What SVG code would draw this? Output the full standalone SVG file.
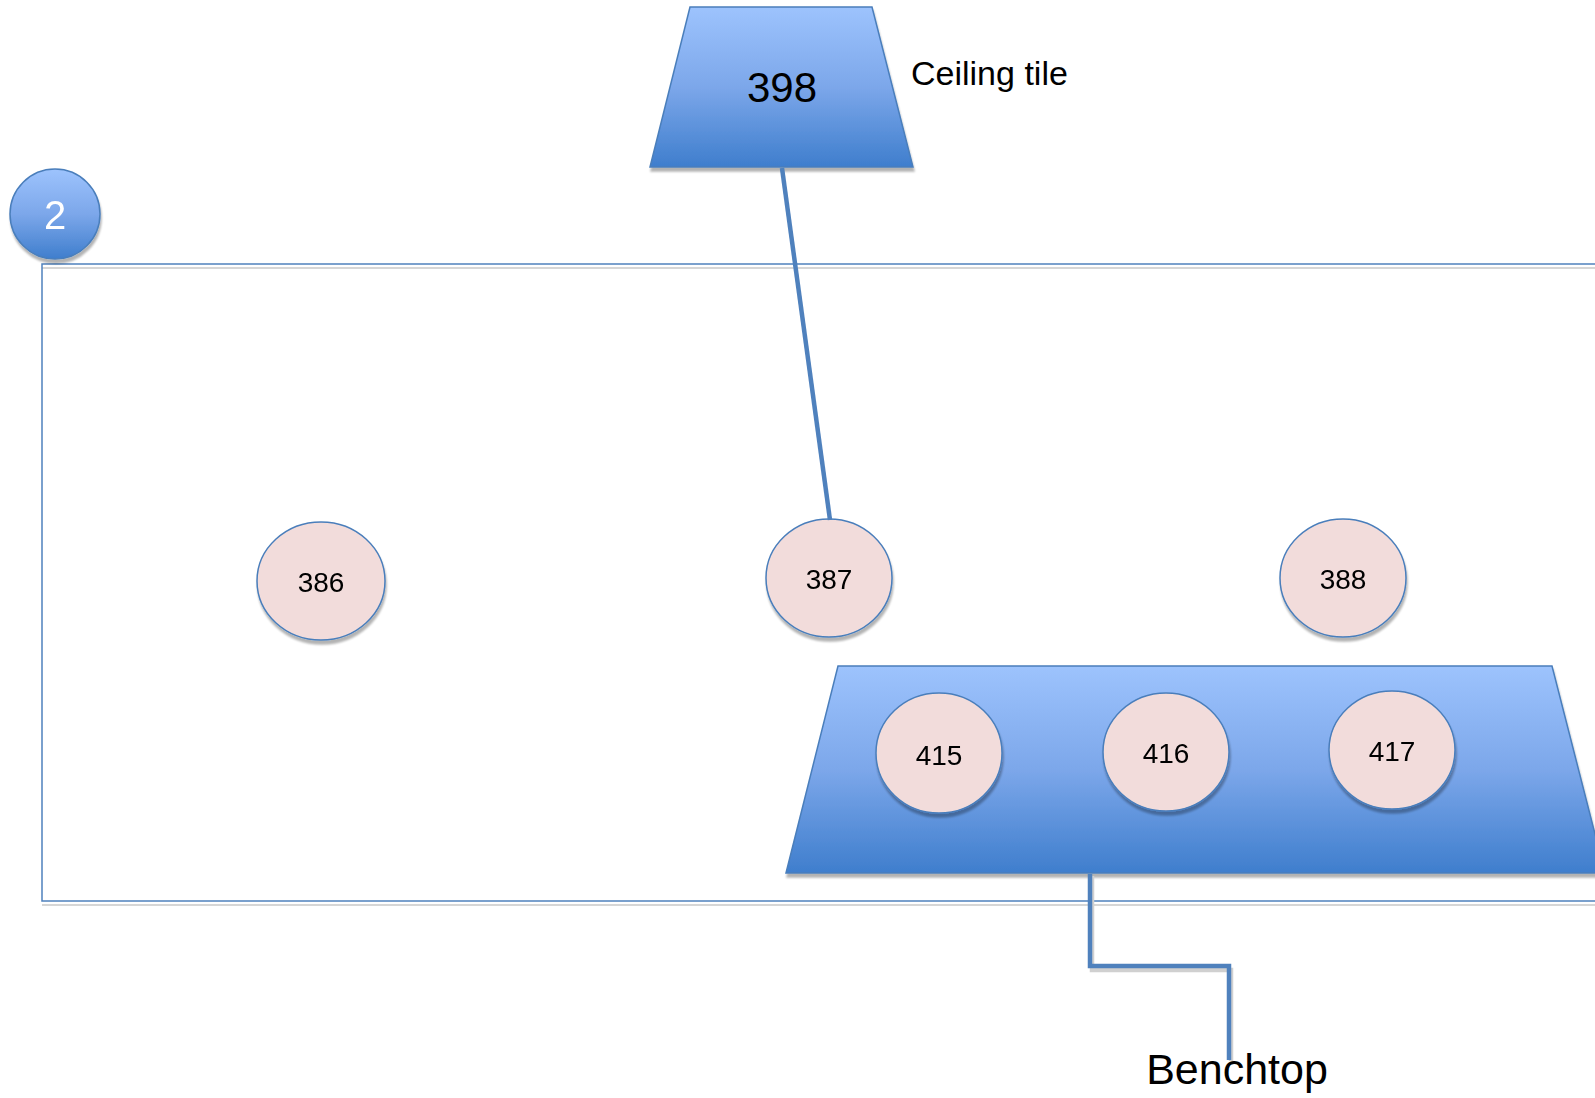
<svg xmlns="http://www.w3.org/2000/svg" width="1595" height="1098" viewBox="0 0 1595 1098">
<defs>
<linearGradient id="blue" x1="0" y1="0" x2="0" y2="1">
<stop offset="0" stop-color="#9dc3fd"/>
<stop offset="0.5" stop-color="#7ca7ea"/>
<stop offset="1" stop-color="#3f7ecd"/>
</linearGradient>
<filter id="sh" x="-10%" y="-10%" width="120%" height="130%">
<feGaussianBlur in="SourceAlpha" stdDeviation="1"/>
<feOffset dx="1" dy="4" result="o"/>
<feComponentTransfer><feFuncA type="linear" slope="0.3"/></feComponentTransfer>
<feMerge><feMergeNode/><feMergeNode in="SourceGraphic"/></feMerge>
</filter>
</defs>
<style>
.trap{fill:url(#blue);stroke:#4a7ebb;stroke-width:1.5}
.node{fill:#f2dcdb;stroke:#4a7ebb;stroke-width:1.5}
.lbl{font-family:"Liberation Sans",Arial,sans-serif;fill:#000;text-anchor:middle}
.conn{fill:none;stroke:#4f81bd;stroke-width:4.5}
.connsh{fill:none;stroke:#d0d0d0;stroke-width:4.5}
</style>
<rect width="1595" height="1098" fill="#fff"/>
<g id="container">
<path d="M1600,268 L42,268 M42,905 L1600,905" fill="none" stroke="#d6d6d6" stroke-width="2"/>
<path d="M1600,264 L42,264 L42,901 L1600,901" fill="none" stroke="#4f81bd" stroke-width="1.5"/>
</g>
<g id="node-2" filter="url(#sh)">
<circle cx="55" cy="214" r="45" fill="url(#blue)" stroke="#4a7ebb" stroke-width="1.5"/>
<text x="55" y="229" class="lbl" font-size="40" style="fill:#fff">2</text>
</g>
<g id="node-398">
<polygon class="trap" points="690,7 872,7 913,167 650,167" filter="url(#sh)"/>
<text x="782" y="102" class="lbl" font-size="42">398</text>
</g>
<text id="label-ceiling" x="911" y="85" font-family="Liberation Sans,Arial,sans-serif" font-size="34">Ceiling tile</text>
<g id="node-benchtop">
<polygon class="trap" points="838,666 1552,666 1605,873 786,873" filter="url(#sh)"/>
</g>
<g id="node-386" filter="url(#sh)"><ellipse class="node" cx="321" cy="581" rx="64" ry="59"/><text x="321" y="592" class="lbl" font-size="28">386</text></g>
<g id="node-387" filter="url(#sh)"><ellipse class="node" cx="829" cy="578" rx="63" ry="59"/><text x="829" y="589" class="lbl" font-size="28">387</text></g>
<g id="node-388" filter="url(#sh)"><ellipse class="node" cx="1343" cy="578" rx="63" ry="59"/><text x="1343" y="589" class="lbl" font-size="28">388</text></g>
<g id="node-415" filter="url(#sh)"><ellipse class="node" cx="939" cy="753" rx="63" ry="60"/><text x="939" y="765" class="lbl" font-size="28">415</text></g>
<g id="node-416" filter="url(#sh)"><ellipse class="node" cx="1166" cy="752" rx="63" ry="59"/><text x="1166" y="763" class="lbl" font-size="28">416</text></g>
<g id="node-417" filter="url(#sh)"><ellipse class="node" cx="1392" cy="750" rx="63" ry="59"/><text x="1392" y="761" class="lbl" font-size="28">417</text></g>
<g id="connectors">
<line class="conn" x1="782" y1="168" x2="830" y2="520"/>
<path class="connsh" d="M1092,876 L1092,970 L1231,970 L1231,1061"/>
<path class="conn" d="M1090,874 L1090,966 L1229,966 L1229,1060"/>
</g>
<text id="label-benchtop" x="1237" y="1084" class="lbl" font-size="43">Benchtop</text>
</svg>
